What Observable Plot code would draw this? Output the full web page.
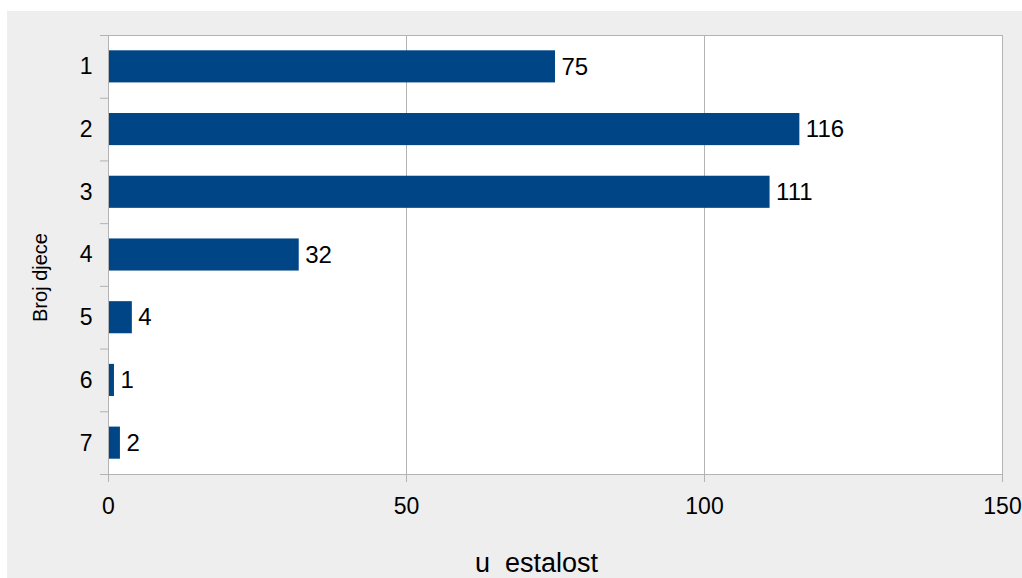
<!DOCTYPE html>
<html>
<head>
<meta charset="utf-8">
<script src="https://cdn.jsdelivr.net/npm/d3@7"></script>
<script src="https://cdn.jsdelivr.net/npm/@observablehq/plot@0.6"></script>
<style>
  html, body { margin: 0; padding: 0; background: #ffffff; }
  #chart { position: absolute; left: 7px; top: 11px; }
  #chart svg { background: #eeeeee; display: block; }
  #chart svg text { white-space: pre; }
</style>
</head>
<body>
<div id="chart"></div>
<script>
const categories = [1, 2, 3, 4, 5, 6, 7];
const values = [75, 116, 111, 32, 4, 1, 2];
const xTicks = [0, 50, 100, 150];
const xTitle = "u  estalost";
const yTitle = "Broj djece";

const data = categories.map((c, i) => ({cat: c, value: values[i]}));
const boundaries = d3.range(0.5, categories.length + 1, 1);
const half = 0.256;
const grid = "#b3b3b3";
const font = "Liberation Sans, Arial, sans-serif";

const chart = Plot.plot({
  width: 1015,
  height: 567,
  marginLeft: 101,
  marginRight: 20,
  marginTop: 24,
  marginBottom: 104,
  style: {fontFamily: font, fontSize: "23px", color: "#000", background: "#eeeeee"},
  x: {domain: [0, 150]},
  y: {domain: [0.5, categories.length + 0.5], reverse: true},
  marks: [
    Plot.frame({fill: "white", stroke: null}),
    Plot.gridX(xTicks.filter(d => d > 0), {stroke: grid, strokeOpacity: 1}),
    Plot.rectX(data, {x1: 0, x2: "value", y1: d => d.cat - half, y2: d => d.cat + half, fill: "#004586"}),
    Plot.text(data, {x: "value", y: "cat", text: d => String(d.value), textAnchor: "start", dx: 6, fill: "#000", fontSize: 24}),
    Plot.frame({stroke: grid, strokeOpacity: 1}),
    Plot.axisY({ticks: categories, tickSize: 0, tickPadding: 16, tickFormat: d => String(d), label: null, fontSize: 23}),
    Plot.axisY({ticks: boundaries, tickSize: 8, tickFormat: () => "", label: null, stroke: grid, strokeOpacity: 1}),
    Plot.axisX({ticks: xTicks, tickSize: 8, tickPadding: 15, label: null, stroke: grid, strokeOpacity: 1, fill: "#000", fontSize: 23}),
    Plot.text([xTitle], {frameAnchor: "bottom", text: d => d, dy: 89, dx: -19, lineAnchor: "middle", fontSize: 27, fill: "#000"}),
    Plot.text([yTitle], {frameAnchor: "left", text: d => d, dx: -68, dy: 22.5, rotate: -90, textAnchor: "middle", lineAnchor: "middle", fontSize: 20, fill: "#000"})
  ]
});
document.getElementById("chart").append(chart);
</script>
</body>
</html>
